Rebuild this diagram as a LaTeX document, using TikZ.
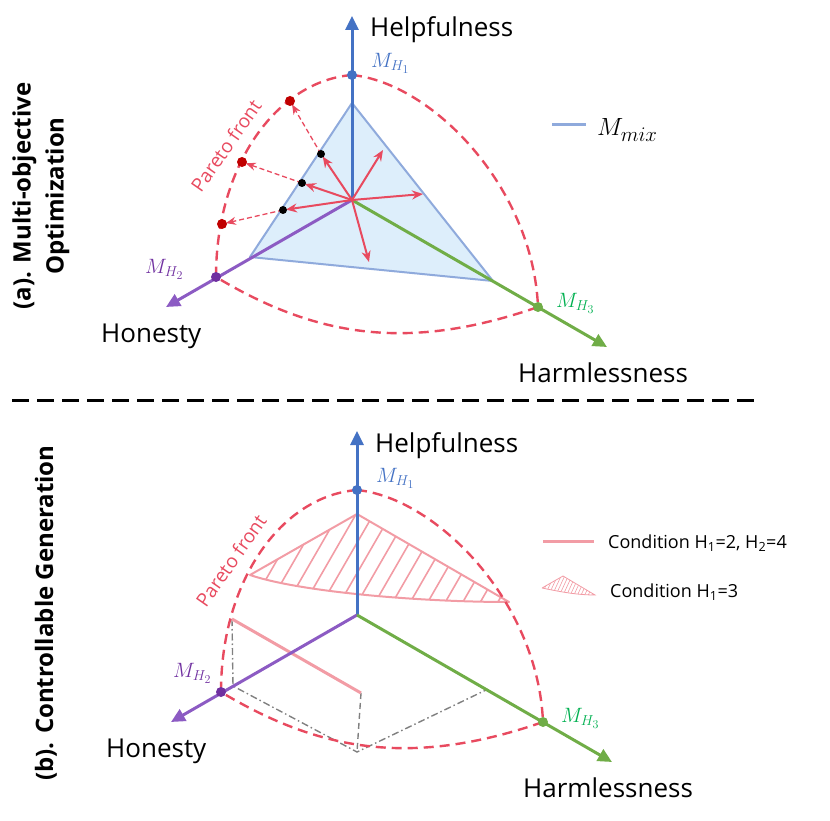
\documentclass[tikz,border=0pt]{standalone}
\usepackage{fontspec}
\setmainfont{Open Sans}
\usetikzlibrary{arrows.meta}

\definecolor{helpblue}{HTML}{4472C4}
\definecolor{honpurple}{HTML}{8C5BC3}
\definecolor{honlabel}{HTML}{7030A0}
\definecolor{harmgreen}{HTML}{70AD47}
\definecolor{harmlabel}{HTML}{00B050}
\definecolor{frontred}{HTML}{E84A5F}
\definecolor{dotred}{HTML}{C00000}
\definecolor{mixblue}{HTML}{8FAADC}
\definecolor{mixfill}{HTML}{DDEEFB}
\definecolor{condpink}{HTML}{F29CA5}

\tikzset{
  axis/.style={line width=3pt,-{Triangle[length=14pt,width=13pt]}},
  front/.style={frontred,line width=2.4pt,dash pattern=on 10pt off 6pt},
  mdot/.style={circle,fill,inner sep=0pt,minimum size=10pt},
  pdot/.style={circle,fill,inner sep=0pt,minimum size=#1},
  axlabel/.style={inner sep=0pt,anchor=base west,font=\fontsize{26}{30}\selectfont},
  mlabel/.style={inner sep=0pt,anchor=west,font=\fontsize{20.74}{22}\selectfont},
  title/.style={inner sep=0pt,rotate=90,align=center,font=\fontsize{24}{33}\selectfont\bfseries},
  dir/.style={frontred,line width=2pt,-{Stealth[length=11pt,width=9pt]}},
  proj/.style={frontred,line width=1.3pt,dash pattern=on 5pt off 3pt,-{Stealth[length=10pt,width=8pt]},shorten >=4pt},
  cond/.style={condpink,line width=3pt},
  hatch/.style={condpink,line width=1.6pt},
  guide/.style={gray,line width=1.4pt,dash pattern=on 6pt off 4pt},
  guidedd/.style={gray,line width=1.4pt,dash pattern=on 7pt off 3pt on 1.5pt off 3pt},
  legtext/.style={inner sep=0pt,anchor=base west,font=\fontsize{18}{20}\selectfont},
}

% axes, front and labels; #1 = name suffix, #2,#3 = shift
\newcommand{\hhhaxes}[3]{%
  \begin{scope}[shift={(#2,#3)}]
    \coordinate (o#1) at (352,200);
    \coordinate (tipf#1) at (352,16);
    \coordinate (tipn#1) at (166,307);
    \coordinate (tipl#1) at (607,347);
    \coordinate (mf#1) at (352,75);
    \coordinate (mn#1) at (216,277);
    \coordinate (ml#1) at (538,307);
    \draw[axis,helpblue] (o#1) -- (tipf#1);
    \draw[axis,honpurple] (o#1) -- (tipn#1);
    \draw[axis,harmgreen] (o#1) -- (tipl#1);
    \draw[front] (mf#1) .. controls +(-75,6) and +(0,-112) .. (mn#1)
      .. controls +(100,60) and +(-130,45) .. (ml#1);
    \draw[front] (mf#1) .. controls +(80,8) and +(-5,-120) .. (ml#1);
    \node[mdot,helpblue] (dmf#1) at (mf#1) {};
    \node[mdot,honlabel] (dmn#1) at (mn#1) {};
    \node[mdot,harmgreen] (dml#1) at (ml#1) {};
    \node[axlabel] (help#1) at (370,37) {Helpfulness};
    \node[axlabel] (hon#1) at (101,342) {Honesty};
    \node[axlabel] (harm#1) at (518,382) {Harmlessness};
    \node[mlabel,helpblue] (lf#1) at (371,63) {$M_{H_1}$};
    \node[mlabel,harmlabel] (ll#1) at (556,303) {$M_{H_3}$};
    \node[frontred,rotate=55,font=\fontsize{19}{20}\selectfont] (par#1) at (226,146) {Pareto front};
  \end{scope}}

\begin{document}
\begin{tikzpicture}[x=1pt,y=-1pt]
\useasboundingbox (0,0) rectangle (830,821);

% (a) multi-objective optimization
\coordinate (mixt) at (352,103);
\coordinate (mixl) at (250,257);
\coordinate (mixr) at (493,281);
\filldraw[mixblue,fill=mixfill,line width=2pt,line join=round] (mixt) -- (mixl) -- (mixr) -- cycle;

\hhhaxes{a}{0}{0}
\node[mlabel,honlabel] (lna) at (145,269) {$M_{H_2}$};

\coordinate (b1) at (321,154);
\coordinate (b2) at (302,183);
\coordinate (b3) at (283,210);
\coordinate (r1) at (290,101);
\coordinate (r2) at (242,162);
\coordinate (r3) at (222,224);
\coordinate (e1) at (383,150);
\coordinate (e2) at (423,194);
\coordinate (e3) at (369,262);
\foreach \b in {b1,b2,b3}
  \draw[dir,shorten >=3pt] (oa) -- (\b);
\foreach \e in {e1,e2,e3}
  \draw[dir] (oa) -- (\e);
\draw[proj] (b1) -- (r1);
\draw[proj] (b2) -- (r2);
\draw[proj] (b3) -- (r3);
\foreach \b in {b1,b2,b3}
  \node[pdot=8pt,black] at (\b) {};
\foreach \r in {r1,r2,r3}
  \node[pdot=10pt,dotred] at (\r) {};

\coordinate (mixa) at (552,125);
\coordinate (mixb) at (586,125);
\draw[mixblue,line width=3pt] (mixa) -- (mixb);
\node[inner sep=0pt,anchor=west,font=\fontsize{24.88}{28}\selectfont] (mixlab) at (597,130) {$M_{mix}$};

\node[title] (ta) at (41,196) {(a). Multi-objective\\Optimization};

% divider
\coordinate (dl) at (12,400);
\coordinate (dr) at (757,400);
\draw[line width=3pt,dash pattern=on 17pt off 8pt] (dl) -- (dr);

% (b) controllable generation
\coordinate (st) at (357,514);
\coordinate (sl) at (250,575);
\coordinate (sr) at (509,602);
\begin{scope}
  \clip (st) -- (sl) .. controls +(50,17) and +(-89,0) .. (sr) -- cycle;
  \foreach \k in {0,...,19}
    \draw[hatch] ({190+17.5*\k},620) -- ++(75,-130);
\end{scope}
\draw[condpink,line width=2pt,line join=round] (st) -- (sl) .. controls +(50,17) and +(-89,0) .. (sr) -- cycle;

\coordinate (cs) at (232,619);
\coordinate (ce) at (361,693);
\coordinate (gv) at (233,686);
\coordinate (gb) at (357,752);
\coordinate (gg) at (486,690);
\draw[guidedd] (cs) -- (gv) -- (gb) -- (gg);
\draw[guide] (ce) -- (gb);
\draw[cond] (cs) -- (ce);

\hhhaxes{b}{5}{415}
\node[mlabel,honlabel] (lnb) at (173,673) {$M_{H_2}$};

\coordinate (ca) at (543,541);
\coordinate (cb) at (594,541);
\draw[cond] (ca) -- (cb);
\node[legtext] (cl1) at (608,548) {Condition H\textsubscript{1}=2, H\textsubscript{2}=4};

\coordinate (kl) at (542,588);
\coordinate (kt) at (563,576);
\coordinate (kr) at (595,595);
\begin{scope}
  \clip (kl) -- (kt) -- (kr) .. controls +(-20,0) and +(15,3) .. (kl);
  \foreach \k in {0,...,18}
    \draw[condpink,line width=0.6pt] ({532+3.6*\k},600) -- ++(12,-26);
\end{scope}
\draw[condpink,line width=0.8pt] (kl) -- (kt) -- (kr) .. controls +(-20,0) and +(15,3) .. (kl);
\node[legtext] (cl2) at (610,597) {Condition H\textsubscript{1}=3};

\node[title] (tb) at (46,613) {(b). Controllable Generation};
\end{tikzpicture}
\end{document}
